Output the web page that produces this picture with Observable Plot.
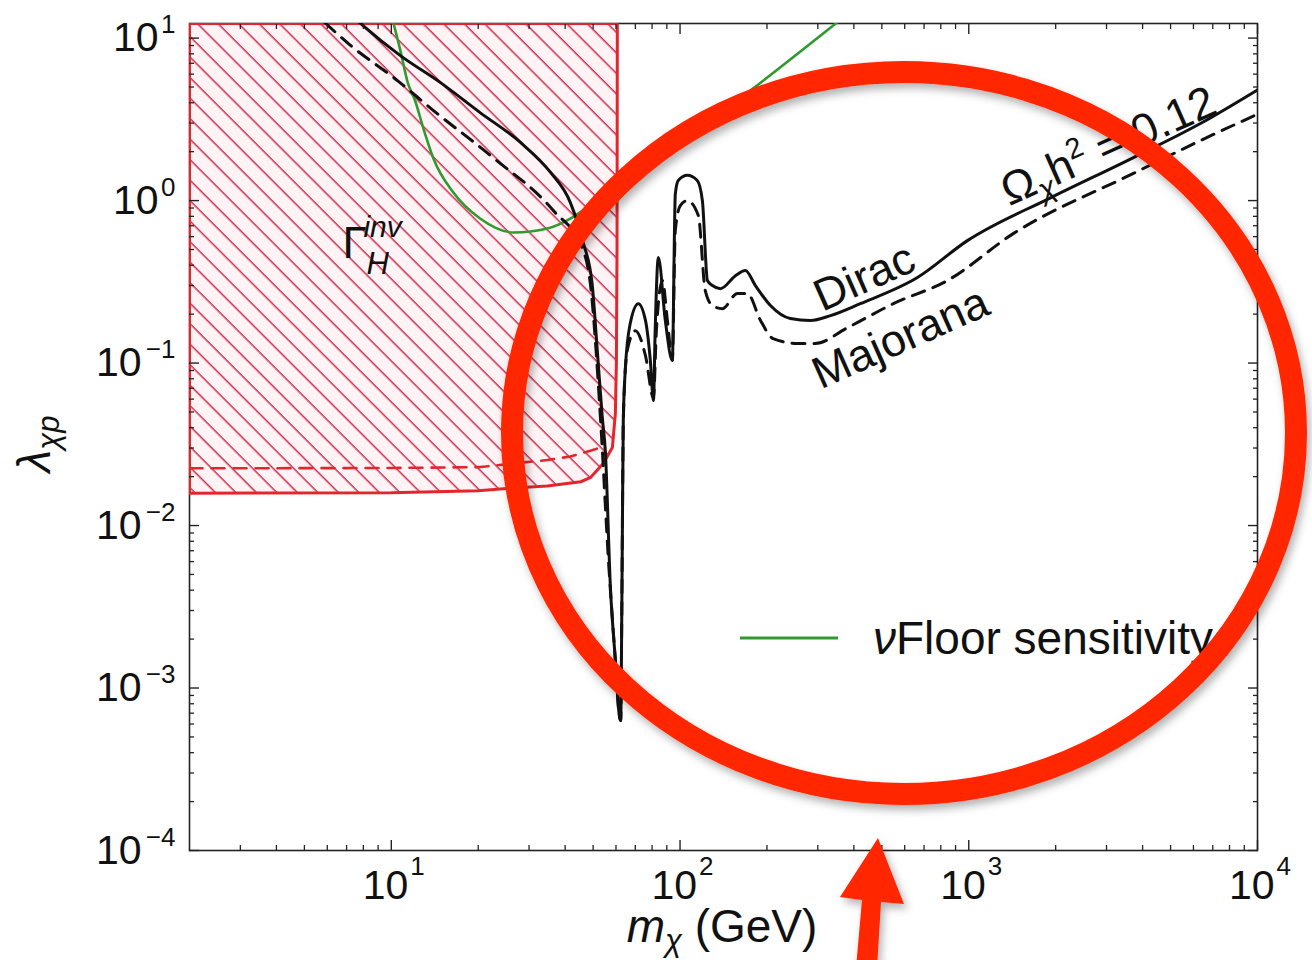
<!DOCTYPE html>
<html>
<head>
<meta charset="utf-8">
<script src="https://cdn.jsdelivr.net/npm/d3@7"></script>
<script src="https://cdn.jsdelivr.net/npm/@observablehq/plot@0.6"></script>
<style>
  html, body { margin: 0; padding: 0; background: #fff; }
  #chart { width: 1312px; height: 960px; }
</style>
</head>
<body>
<div id="chart"></div>
<script>
// Relic-density contour Ωχh² = 0.12, Dirac fermion: mass (GeV) and coupling λχp
const diracMass = [7.6, 8.0, 10.75, 14.8, 20.3, 28.0, 35.6, 41.7, 46.2, 49.6, 51.7, 53.8, 55.1, 57.4, 59.7, 61.6, 62.3, 62.7, 63.1, 63.6, 64.6, 67.2, 71.7, 75.9, 78.9, 80.9, 82.0, 84.1, 88.9, 94.0, 96.3, 98.6, 106, 114.7, 119.5, 124.4, 129.5, 138, 155.6, 168.4, 182.4, 205.6, 241, 283, 332, 421, 664, 989, 1919, 3718, 6340, 10000];
const diracLambda = [12.9, 11.9, 7.80, 5.32, 3.48, 2.28, 1.49, 0.972, 0.551, 0.308, 0.119, 0.0462, 0.0289, 0.00415, 0.00148, 0.000677, 0.00063, 0.0017, 0.0081, 0.0443, 0.0899, 0.175, 0.232, 0.183, 0.104, 0.0588, 0.158, 0.446, 0.183, 0.104, 1.10, 1.33, 1.43, 1.33, 1.0, 0.322, 0.300, 0.287, 0.345, 0.371, 0.300, 0.226, 0.188, 0.183, 0.196, 0.232, 0.336, 0.567, 1.04, 1.84, 2.98, 4.8];

// Same contour for a Majorana fermion
const majoranaMass = [5.9, 7.10, 10.5, 14.0, 22.5, 36.4, 46.2, 48.9, 53.0, 56.5, 59.7, 61.6, 62.3, 62.7, 63.1, 63.6, 65.6, 70.0, 75.9, 80.9, 82.8, 86.9, 90.4, 94.0, 96.3, 100.2, 106, 115.7, 122.3, 129.5, 140, 158, 171, 190, 210, 255, 294, 380, 548, 843, 1426, 3718, 6340, 10000];
const majoranaLambda = [12.4, 9.25, 5.48, 3.58, 1.84, 0.868, 0.492, 0.308, 0.0462, 0.0061, 0.00148, 0.000677, 0.00063, 0.0017, 0.0081, 0.0443, 0.119, 0.158, 0.111, 0.0613, 0.158, 0.322, 0.183, 0.104, 0.654, 0.932, 1.0, 0.809, 0.279, 0.226, 0.216, 0.268, 0.268, 0.183, 0.1415, 0.132, 0.132, 0.165, 0.232, 0.322, 0.626, 1.47, 2.34, 3.4];

// Neutrino-floor direct-detection sensitivity
const floorMass = [10.1, 10.75, 11.4, 12.1, 12.9, 14.0, 16.4, 20.3, 26.5, 34.7, 41.7, 48.9, 60.7, 175, 360];
const floorLambda = [13, 8.38, 5.32, 4.1, 2.8, 1.81, 1.12, 0.775, 0.636, 0.673, 0.775, 0.932, 1.20, 4.75, 13];

// Invisible Higgs width: excluded region boundary (current) and projected bound
const invMass = [2, 10, 20, 26.5, 34.7, 45.3, 48.9, 54.2, 58.3, 59.7, 60.2, 60.5, 60.65];
const invLambda = [0.0158, 0.0159, 0.0164, 0.017, 0.0175, 0.0186, 0.0197, 0.0241, 0.0302, 0.0488, 0.1, 0.5, 12.3];
const invProjMass = [2, 10, 20.3, 26.5, 34.7, 41.7, 48.9, 53.0, 54.5];
const invProjLambda = [0.0225, 0.0226, 0.0229, 0.0241, 0.0253, 0.0266, 0.0289, 0.0302, 0.032];

// Axis ticks
const xMajorTicks = [10, 100, 1000, 10000];
const xExponents = ["1", "2", "3", "4"];
const xMinorTicks = [3, 4, 5, 6, 7, 8, 9, 20, 30, 40, 50, 60, 70, 80, 90, 200, 300, 400, 500, 600, 700, 800, 900, 2000, 3000, 4000, 5000, 6000, 7000, 8000, 9000];
const yMajorTicks = [1e-4, 1e-3, 1e-2, 1e-1, 1, 10];
const yExponents = ["−4", "−3", "−2", "−1", "0", "1"];
const yMinorTicks = [2e-4, 3e-4, 4e-4, 5e-4, 6e-4, 7e-4, 8e-4, 9e-4, 2e-3, 3e-3, 4e-3, 5e-3, 6e-3, 7e-3, 8e-3, 9e-3, 0.02, 0.03, 0.04, 0.05, 0.06, 0.07, 0.08, 0.09, 0.2, 0.3, 0.4, 0.5, 0.6, 0.7, 0.8, 0.9, 2, 3, 4, 5, 6, 7, 8, 9];

// Text anchors in data coordinates
const gammaLabel = {m: 6.8, l: 0.44};
const diracLabel = {m: 435, l: 0.34};
const majoranaLabel = {m: 580, l: 0.1436};
const omegaLabel = {m: 3045, l: 2.18};

const xDomain = [2, 1e4];
const yDomain = [1e-4, 12.3];

const FONT = '"Liberation Sans", Arial, Helvetica, sans-serif';
const RED = "#e3262d";
const GREEN = "#2f9a2f";
const INK = "#111";

const rows = (ms, ls) => ms.map((m, i) => ({m, l: ls[i]}));
const dirac = rows(diracMass, diracLambda);
const majorana = rows(majoranaMass, majoranaLambda);
const floor = rows(floorMass, floorLambda);
const inv = rows(invMass, invLambda);
const invProj = rows(invProjMass, invProjLambda);
const invOutline = [{m: xDomain[0], l: yDomain[1]}, ...inv, {m: xDomain[0], l: yDomain[1]}];

const posTicks = yMajorTicks.filter(d => d >= 1);
const negTicks = yMajorTicks.filter(d => d < 1);

const chart = Plot.plot({
  width: 1312,
  height: 960,
  marginLeft: 189,
  marginRight: 55,
  marginTop: 23,
  marginBottom: 110,
  style: {background: "#fff", fontFamily: FONT, color: "#222"},
  x: {type: "log", domain: xDomain, label: null},
  y: {type: "log", domain: yDomain, label: null},
  marks: [
    Plot.areaY(inv, {x: "m", y1: "l", y2: yDomain[1], fill: "#fff3f5", clip: true}),
    Plot.areaY(inv, {x: "m", y1: "l", y2: yDomain[1], fill: "url(#hatch)", clip: true}),
    Plot.frame({stroke: "#222", strokeWidth: 1.6}),
    Plot.line(invProj, {x: "m", y: "l", stroke: RED, strokeWidth: 2.6, strokeDasharray: "13,9", clip: true}),
    Plot.line(invOutline, {x: "m", y: "l", stroke: RED, strokeWidth: 3, clip: true}),
    Plot.line(floor, {x: "m", y: "l", stroke: GREEN, strokeWidth: 2.6, curve: "monotone-x", clip: true}),
    Plot.line(majorana, {x: "m", y: "l", stroke: INK, strokeWidth: 3, strokeDasharray: "13,9", curve: "monotone-x", clip: true}),
    Plot.line(dirac, {x: "m", y: "l", stroke: INK, strokeWidth: 3, curve: "monotone-x", clip: true}),

    // inward ticks on all four sides
    Plot.axisX({anchor: "bottom", ticks: xMajorTicks, tickSize: -10, fill: "none", stroke: "#222", strokeWidth: 1.4}),
    Plot.axisX({anchor: "bottom", ticks: xMinorTicks, tickSize: -5, fill: "none", stroke: "#222", strokeWidth: 1.3}),
    Plot.axisX({anchor: "top", ticks: xMajorTicks, tickSize: -10, fill: "none", stroke: "#222", strokeWidth: 1.4}),
    Plot.axisX({anchor: "top", ticks: xMinorTicks, tickSize: -5, fill: "none", stroke: "#222", strokeWidth: 1.3}),
    Plot.axisY({anchor: "left", ticks: yMajorTicks, tickSize: -10, fill: "none", stroke: "#222", strokeWidth: 1.4}),
    Plot.axisY({anchor: "left", ticks: yMinorTicks, tickSize: -5, fill: "none", stroke: "#222", strokeWidth: 1.3}),
    Plot.axisY({anchor: "right", ticks: yMajorTicks, tickSize: -10, fill: "none", stroke: "#222", strokeWidth: 1.4}),
    Plot.axisY({anchor: "right", ticks: yMinorTicks, tickSize: -5, fill: "none", stroke: "#222", strokeWidth: 1.3}),

    // tick labels 10^k
    Plot.text(xMajorTicks, {x: d => d, frameAnchor: "bottom", text: () => "10", textAnchor: "end", lineAnchor: "middle", dx: 17, dy: 35, fontSize: 41, fill: INK}),
    Plot.text(xMajorTicks, {x: d => d, frameAnchor: "bottom", text: xExponents, textAnchor: "start", lineAnchor: "middle", dx: 19, dy: 16, fontSize: 26, fill: INK}),
    Plot.text(posTicks, {y: d => d, frameAnchor: "left", text: () => "10", textAnchor: "end", lineAnchor: "middle", dx: -31, fontSize: 41, fill: INK}),
    Plot.text(negTicks, {y: d => d, frameAnchor: "left", text: () => "10", textAnchor: "end", lineAnchor: "middle", dx: -48, fontSize: 41, fill: INK}),
    Plot.text(yMajorTicks, {y: d => d, frameAnchor: "left", text: yExponents, textAnchor: "end", lineAnchor: "middle", dx: -14, dy: -13, fontSize: 26, fill: INK})
  ]
});

document.getElementById("chart").appendChild(chart);

const svg = d3.select(chart);
const sx = chart.scale("x");
const sy = chart.scale("y");

// pattern for the hatched exclusion region and a soft shadow for the highlight
const defs = svg.insert("defs", ":first-child");
const hatch = defs.append("pattern")
  .attr("id", "hatch")
  .attr("patternUnits", "userSpaceOnUse")
  .attr("width", 14.5).attr("height", 14.5)
  .attr("patternTransform", "rotate(-45)");
hatch.append("line")
  .attr("x1", 7).attr("y1", -1).attr("x2", 7).attr("y2", 15.5)
  .attr("stroke", "#d02a4c").attr("stroke-width", 1.5);
const shadow = defs.append("filter").attr("id", "shadow")
  .attr("x", "-10%").attr("y", "-10%").attr("width", "120%").attr("height", "120%");
shadow.append("feDropShadow").attr("dx", 3).attr("dy", 5).attr("stdDeviation", 4)
  .attr("flood-color", "#000").attr("flood-opacity", 0.3);

const ann = svg.append("g")
  .attr("font-family", FONT)
  .attr("fill", INK)
  .attr("text-anchor", "start");

// Γ_H^inv: superscript, then subscript set back under it
{
  const x = sx.apply(gammaLabel.m), y = sy.apply(gammaLabel.l);
  const t = ann.append("text").attr("x", x).attr("y", y).attr("font-size", 44);
  t.append("tspan").text("Γ");
  t.append("tspan").attr("x", x + 21).attr("dy", -21).attr("font-size", 30).attr("font-style", "italic").text("inv");
  t.append("tspan").attr("x", x + 24).attr("dy", 37).attr("font-size", 31).attr("font-style", "italic").text("H");
}

// rotated labels along the relic-density curves
function curveLabel(pos, build) {
  const t = ann.append("text")
    .attr("transform", `translate(${sx.apply(pos.m)},${sy.apply(pos.l)}) rotate(-24)`)
    .attr("text-anchor", "middle")
    .attr("font-size", 45);
  build(t);
}
curveLabel(diracLabel, t => t.append("tspan").attr("dy", "0.35em").text("Dirac"));
curveLabel(majoranaLabel, t => t.append("tspan").attr("dy", "0.35em").text("Majorana"));
curveLabel(omegaLabel, t => {
  t.append("tspan").attr("dy", "0.35em").text("Ω");
  t.append("tspan").attr("dy", 9).attr("font-size", 30).attr("font-style", "italic").text("χ");
  t.append("tspan").attr("dy", -9).text("h");
  t.append("tspan").attr("dy", -17).attr("font-size", 29).text("2");
  t.append("tspan").attr("dy", 17).text(" = 0.12");
});

// axis titles
{
  const t = ann.append("text").attr("x", 722).attr("y", 942).attr("text-anchor", "middle").attr("font-size", 46);
  t.append("tspan").attr("font-style", "italic").text("m");
  t.append("tspan").attr("dy", 9).attr("font-size", 31).attr("font-style", "italic").text("χ");
  t.append("tspan").attr("dy", -9).text(" (GeV)");
}
{
  const t = ann.append("text").attr("transform", "translate(50,444) rotate(-90)").attr("text-anchor", "middle").attr("font-size", 46);
  t.append("tspan").attr("font-style", "italic").text("λ");
  t.append("tspan").attr("dy", 9).attr("font-size", 31).attr("font-style", "italic").text("χp");
}

// legend
ann.append("line").attr("x1", 740).attr("x2", 838).attr("y1", 638).attr("y2", 638)
  .attr("stroke", GREEN).attr("stroke-width", 3);
{
  const t = ann.append("text").attr("x", 873).attr("y", 654).attr("font-size", 46);
  t.append("tspan").attr("font-style", "italic").text("ν");
  t.append("tspan").text("Floor sensitivity");
}

// highlight: ring and pointer
const hl = svg.append("g").attr("filter", "url(#shadow)");
hl.append("ellipse")
  .attr("cx", 904).attr("cy", 433).attr("rx", 392).attr("ry", 361)
  .attr("fill", "none").attr("stroke", "#ff2600").attr("stroke-width", 22);
hl.append("polygon")
  .attr("points", "856,968 862,900 840,897 878,838 904,904 881,902 877,968")
  .attr("fill", "#ff2600");
</script>
</body>
</html>
